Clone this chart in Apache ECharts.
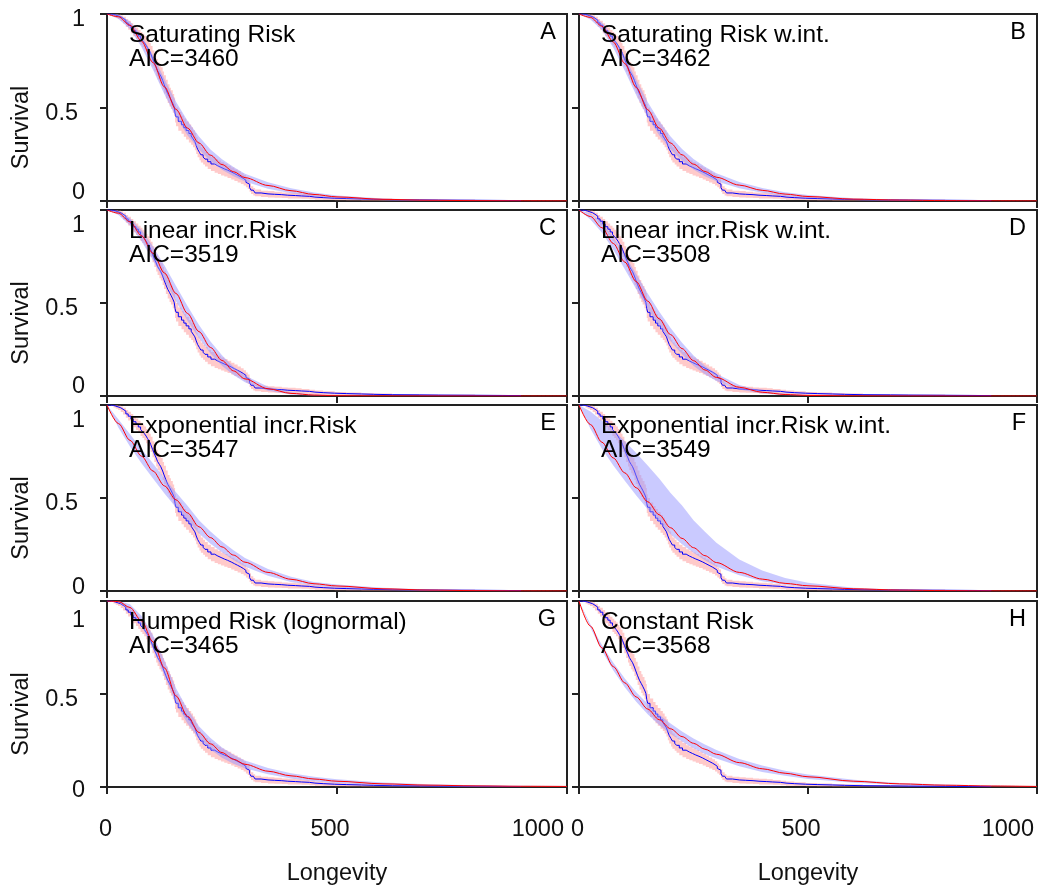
<!DOCTYPE html>
<html><head><meta charset="utf-8">
<script src="https://cdn.jsdelivr.net/npm/echarts@6/dist/echarts.min.js"></script>
<style>html,body{margin:0;padding:0;background:#fff}#c{width:1039px;height:890px}</style>
</head><body><div id="c"></div>
<script>
// ---------- text ----------
const panelTitles = ['Saturating Risk','Saturating Risk w.int.','Linear incr.Risk','Linear incr.Risk w.int.',
  'Exponential incr.Risk','Exponential incr.Risk w.int.','Humped Risk (lognormal)','Constant Risk'];
const panelAIC = ['AIC=3460','AIC=3462','AIC=3519','AIC=3508','AIC=3547','AIC=3549','AIC=3465','AIC=3568'];
const panelLetters = ['A','B','C','D','E','F','G','H'];
const xTickLabels = [0, 500, 1000];
const yTickLabels = [0, 0.5, 1];

// ---------- Kaplan-Meier (time, survival, lower, upper) ----------
const kmData = [
 [0,1.000,1.000,1.000],[8,0.998,0.994,1.000],[14,0.994,0.987,1.000],[19,0.990,0.980,1.000],
 [24,0.985,0.973,0.997],[30,0.977,0.962,0.992],[35,0.967,0.949,0.985],[41,0.952,0.931,0.973],
 [46,0.940,0.916,0.964],[52,0.924,0.897,0.951],[57,0.910,0.881,0.939],[63,0.897,0.866,0.928],
 [68,0.882,0.849,0.915],[73,0.869,0.834,0.904],[77,0.858,0.822,0.894],[81,0.847,0.810,0.884],
 [85,0.833,0.795,0.871],[88,0.820,0.781,0.859],[92,0.805,0.765,0.845],[95,0.788,0.747,0.829],
 [99,0.762,0.719,0.805],[103,0.737,0.693,0.781],[107,0.715,0.670,0.760],[110,0.696,0.650,0.742],
 [114,0.680,0.633,0.727],[117,0.668,0.621,0.715],[121,0.645,0.597,0.693],[124,0.624,0.575,0.673],
 [128,0.598,0.548,0.648],[132,0.574,0.524,0.624],[136,0.556,0.506,0.606],[139,0.542,0.492,0.592],
 [143,0.522,0.472,0.572],[146,0.504,0.454,0.554],[148,0.470,0.420,0.520],[150,0.450,0.400,0.500],
 [155,0.426,0.376,0.476],[162,0.408,0.359,0.457],[167,0.392,0.343,0.441],[172,0.377,0.329,0.425],
 [178,0.361,0.313,0.409],[183,0.348,0.301,0.395],[187,0.333,0.287,0.379],[191,0.318,0.272,0.364],
 [194,0.296,0.251,0.341],[197,0.277,0.234,0.320],[201,0.260,0.218,0.302],[204,0.247,0.206,0.288],
 [209,0.235,0.195,0.275],[213,0.224,0.184,0.264],[219,0.210,0.171,0.249],[226,0.198,0.160,0.236],
 [234,0.188,0.151,0.225],[241,0.180,0.144,0.216],[248,0.172,0.137,0.207],[255,0.165,0.131,0.199],
 [262,0.156,0.123,0.189],[270,0.147,0.115,0.179],[277,0.138,0.107,0.169],[284,0.129,0.099,0.159],
 [291,0.120,0.091,0.149],[297,0.111,0.083,0.139],[302,0.100,0.073,0.127],[306,0.090,0.064,0.116],
 [310,0.072,0.049,0.095],[313,0.058,0.037,0.079],[318,0.049,0.029,0.069],[322,0.043,0.025,0.061],
 [335,0.038,0.021,0.055],[350,0.036,0.019,0.053],[364,0.034,0.018,0.050],[380,0.031,0.016,0.046],
 [393,0.029,0.014,0.044],[410,0.027,0.013,0.041],[423,0.025,0.012,0.038],[440,0.021,0.009,0.033],
 [452,0.018,0.007,0.029],[470,0.015,0.005,0.025],[495,0.013,0.004,0.022],[520,0.011,0.003,0.019],
 [553,0.009,0.002,0.016],[580,0.007,0.001,0.013],[620,0.006,0.001,0.011],[680,0.005,0.000,0.010],
 [720,0.004,0.000,0.008],[800,0.003,0.000,0.006],[860,0.002,0.000,0.004],[900,0.002,0.000,0.004]
];

// ---------- fitted models ----------
const fitTimes = [0,25,50,75,100,125,150,175,200,225,250,275,300,350,400,450,500,600,700,800,900,1000];
const fitA = [1,.985,.94,.855,.74,.61,.49,.39,.31,.245,.195,.157,.125,.083,.055,.035,.022,.009,.004,.002,.001,.0005];
const loA  = [1,.973,.92,.824,.702,.569,.449,.351,.275,.214,.167,.132,.104,.066,.042,.025,.015,.0045,.001,.0005,0,0];
const hiA  = [1,.997,.96,.886,.778,.651,.531,.429,.345,.276,.223,.182,.146,.100,.068,.045,.029,.0135,.007,.0035,.002,.001];
const fitB = [1,.982,.935,.85,.735,.607,.488,.39,.31,.247,.197,.158,.127,.085,.057,.037,.024,.010,.005,.002,.001,.0005];
const loB  = [1,.970,.915,.819,.697,.566,.447,.351,.275,.216,.169,.133,.106,.068,.044,.027,.016,.005,.002,.0005,0,0];
const hiB  = [1,.994,.955,.881,.773,.648,.529,.429,.345,.278,.225,.183,.148,.102,.070,.047,.032,.015,.008,.0035,.002,.001];
const fitC = [1,.983,.936,.862,.767,.661,.551,.444,.346,.261,.191,.135,.092,.039,.014,.005,.0013,.0001,0,0,0,0];
const loC  = [1,.973,.916,.832,.730,.621,.510,.404,.310,.229,.163,.113,.074,.028,.008,.002,.0003,0,0,0,0,0];
const hiC  = [1,.993,.956,.892,.804,.701,.592,.484,.382,.293,.219,.157,.110,.050,.020,.008,.0023,.0003,0,0,0,0];
const fitD = [1,.965,.905,.82,.72,.615,.51,.415,.33,.255,.19,.14,.10,.047,.02,.008,.003,.0003,0,0,0,0];
const loD  = [1,.949,.879,.786,.682,.574,.469,.376,.295,.224,.162,.117,.081,.035,.013,.004,.001,0,0,0,0,0];
const hiD  = [1,.981,.931,.854,.758,.656,.551,.454,.365,.286,.218,.163,.119,.059,.027,.012,.005,.0006,0,0,0,0];
const fitE = [1,.90,.81,.725,.645,.565,.49,.42,.345,.287,.237,.193,.155,.10,.063,.039,.027,.012,.005,.002,.0005,.0001];
const loE  = [1,.878,.777,.687,.605,.524,.449,.381,.309,.254,.208,.167,.132,.082,.049,.029,.019,.007,.002,.0005,0,0];
const hiE  = [1,.922,.843,.763,.685,.606,.531,.459,.381,.320,.266,.219,.178,.118,.077,.049,.035,.017,.008,.0035,.001,.0002];
const fitF = [1,.895,.80,.715,.635,.555,.48,.41,.34,.283,.233,.19,.153,.10,.064,.041,.028,.012,.005,.002,.0006,.0002];
const loF  = [1,.872,.765,.675,.593,.513,.439,.371,.305,.251,.205,.165,.132,.085,.053,.033,.021,.008,.003,.001,0,0];
const hiF  = [1,.965,.915,.865,.805,.742,.675,.605,.527,.46,.38,.318,.26,.17,.11,.07,.045,.018,.007,.003,.001,.0005];
const fitG = [1,.997,.965,.893,.78,.64,.49,.38,.293,.232,.185,.149,.122,.085,.06,.043,.031,.017,.01,.006,.004,.003];
const loG  = [1,.992,.947,.865,.744,.600,.449,.341,.259,.201,.157,.125,.101,.068,.046,.031,.021,.010,.005,.002,.001,.001];
const hiG  = [1,1,.983,.921,.816,.680,.531,.419,.327,.263,.213,.173,.143,.102,.074,.055,.041,.024,.015,.010,.007,.005];
const fitH = [1,.865,.748,.647,.56,.484,.419,.362,.313,.271,.235,.203,.176,.131,.098,.074,.055,.031,.017,.0097,.0054,.003];
const loH  = [1,.856,.732,.626,.536,.458,.391,.334,.285,.244,.209,.178,.153,.111,.081,.060,.043,.023,.012,.0065,.0033,.0017];
const hiH  = [1,.874,.764,.668,.584,.510,.447,.390,.341,.298,.261,.228,.199,.151,.115,.088,.067,.039,.022,.0129,.0075,.0043];

const fits = [fitA,fitB,fitC,fitD,fitE,fitF,fitG,fitH];
const los  = [loA,loB,loC,loD,loE,loF,loG,loH];
const his  = [hiA,hiB,hiC,hiD,hiE,hiF,hiG,hiH];

// ---------- layout ----------
const colLeft = [107, 579], colWidth = [460, 458];
const rowTop = [14, 210, 405, 601], rowHeight = [187, 186, 186, 186];
const offOne = [6, 16, 16, 20], offHalf = [6, 6, 6, 6], offZero = [-8, -9, -3, 4];
const FONT = '"Liberation Sans", Arial, sans-serif';
const INK = '#222';

function pad(d, right) { return d >= 0 ? [2 * d, right, 0, 0] : [0, right, -2 * d, 0]; }

function bandSeries(gi, xs, lo, hi, fill, z, step) {
  return {
    type: 'custom', xAxisIndex: gi, yAxisIndex: gi, z: z, silent: true, animation: false, clip: true,
    data: [[xs[0], lo[0]]],
    renderItem: function (params, api) {
      const up = [], dn = [];
      for (let i = 0; i < xs.length; i++) {
        up.push(api.coord([xs[i], hi[i]]));
        dn.push(api.coord([xs[i], lo[i]]));
        if (step && i < xs.length - 1) {
          up.push(api.coord([xs[i + 1], hi[i]]));
          dn.push(api.coord([xs[i + 1], lo[i]]));
        }
      }
      return { type: 'polygon', shape: { points: up.concat(dn.reverse()) }, style: { fill: fill } };
    }
  };
}

const grids = [], xAxes = [], yAxes = [], series = [], graphics = [];
const kmT = kmData.map(r => r[0]), kmS = kmData.map(r => r[1]);
const kmLo = kmData.map(r => r[2]), kmHi = kmData.map(r => r[3]);

for (let i = 0; i < 8; i++) {
  const col = i % 2, row = Math.floor(i / 2);
  const L = colLeft[col], W = colWidth[col], T = rowTop[row], H = rowHeight[row];
  grids.push({ left: L, top: T, width: W, height: H, show: true, borderColor: INK, borderWidth: 2,
    backgroundColor: 'transparent', containLabel: false, outerBoundsMode: 'none' });
  xAxes.push({
    type: 'value', gridIndex: i, min: 0, max: 1000, interval: 500,
    axisLine: { show: true, onZero: false, lineStyle: { color: INK, width: 2 } },
    axisTick: { show: true, inside: false, length: 7, lineStyle: { color: INK, width: 2 } },
    splitLine: { show: false },
    axisLabel: {
      show: row === 3, margin: 31, color: '#111', fontSize: 23.5, fontFamily: FONT,
      alignMaxLabel: 'right', showMinLabel: true, showMaxLabel: true,
      formatter: v => v === 500 ? '{m|500}' : (v === 1000 ? '{r|1000}' : '{c|' + v + '}'),
      rich: {
        c: { fontSize: 23.5, fontFamily: FONT, color: '#111', padding: [0, 3, 0, 0] },
        m: { fontSize: 23.5, fontFamily: FONT, color: '#111', padding: [0, 14, 0, 0] },
        r: { fontSize: 23.5, fontFamily: FONT, color: '#111', padding: [0, 3, 0, 0] }
      }
    }
  });
  yAxes.push({
    type: 'value', gridIndex: i, min: 0, max: 1, interval: 0.5,
    axisLine: { show: true, onZero: false, lineStyle: { color: INK, width: 2 } },
    axisTick: { show: true, inside: false, length: 7, lineStyle: { color: INK, width: 2 } },
    splitLine: { show: false },
    axisLabel: {
      show: col === 0, margin: 22, color: '#111', fontSize: 23.5, fontFamily: FONT,
      showMinLabel: true, showMaxLabel: true,
      formatter: v => v === 1 ? '{o|1}' : (v === 0.5 ? '{h|0.5}' : '{z|0}'),
      rich: {
        o: { fontSize: 23.5, fontFamily: FONT, color: '#111', padding: pad(offOne[row], 0) },
        h: { fontSize: 23.5, fontFamily: FONT, color: '#111', padding: pad(offHalf[row], 7) },
        z: { fontSize: 23.5, fontFamily: FONT, color: '#111', padding: pad(offZero[row], 0) }
      }
    }
  });

  // KM confidence band (pink), KM step line (blue)
  series.push(bandSeries(i, kmT, kmLo, kmHi, 'rgba(255,150,150,0.5)', 2, true));
  series.push({
    type: 'line', xAxisIndex: i, yAxisIndex: i, z: 3, step: 'end', showSymbol: false, silent: true,
    animation: false, lineStyle: { color: '#0000ff', width: 1 },
    data: kmT.map((t, k) => [t, kmS[k]])
  });
  // model band (light blue) and fitted curve (red)
  series.push(bandSeries(i, fitTimes, los[i], his[i], 'rgba(150,150,255,0.5)', 4, false));
  series.push({
    type: 'line', xAxisIndex: i, yAxisIndex: i, z: 5, smooth: 0.3, smoothMonotone: 'x',
    showSymbol: false, silent: true, animation: false,
    lineStyle: { color: '#ff0000', width: 1 },
    data: fitTimes.map((t, k) => [t, fits[i][k]])
  });

  // panel texts
  graphics.push({ type: 'text', x: L + 22, y: T + 21, z: 100,
    style: { text: panelTitles[i], font: '24.5px ' + FONT, fill: '#000', align: 'left', verticalAlign: 'middle' } });
  graphics.push({ type: 'text', x: L + 22, y: T + 45.5, z: 100,
    style: { text: panelAIC[i], font: '24.5px ' + FONT, fill: '#000', align: 'left', verticalAlign: 'middle' } });
  graphics.push({ type: 'text', x: L + W - 11, y: T + 18.5, z: 100,
    style: { text: panelLetters[i], font: '23.5px ' + FONT, fill: '#000', align: 'right', verticalAlign: 'middle' } });
  if (col === 0) {
    graphics.push({ type: 'text', x: 22, y: T + H / 2 + 20, rotation: Math.PI / 2, z: 100,
      style: { text: 'Survival', font: '23.5px ' + FONT, fill: '#111', align: 'center', verticalAlign: 'middle' } });
  }
  if (row === 3) {
    graphics.push({ type: 'text', x: L + W / 2, y: 874, z: 100,
      style: { text: 'Longevity', font: '23.5px ' + FONT, fill: '#111', align: 'center', verticalAlign: 'middle' } });
  }
}

const chart = echarts.init(document.getElementById('c'), null, { renderer: 'canvas' });
chart.setOption({
  backgroundColor: '#fff',
  animation: false,
  grid: grids, xAxis: xAxes, yAxis: yAxes, series: series, graphic: graphics
});
</script></body></html>
